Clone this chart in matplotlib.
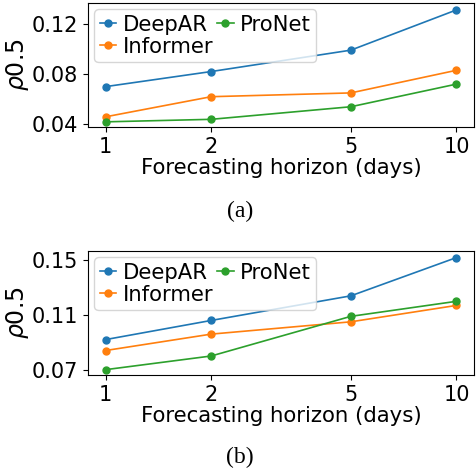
import matplotlib
matplotlib.use("Agg")
import matplotlib.pyplot as plt
from matplotlib.ticker import FixedLocator, NullLocator

horizons = [1, 2, 5, 10]
models = ["DeepAR", "Informer", "ProNet"]
colors = ["tab:blue", "tab:orange", "tab:green"]

# panel (a)
a_deepar = [0.070, 0.082, 0.099, 0.131]
a_informer = [0.046, 0.062, 0.065, 0.083]
a_pronet = [0.042, 0.044, 0.054, 0.072]
a_yticks = [0.04, 0.08, 0.12]
a_ylim = (0.0379, 0.1365)

# panel (b)
b_deepar = [0.092, 0.106, 0.124, 0.152]
b_informer = [0.084, 0.096, 0.105, 0.117]
b_pronet = [0.070, 0.080, 0.109, 0.120]
b_yticks = [0.07, 0.11, 0.15]
b_ylim = (0.0661, 0.1568)

W, H = 476, 470
fig = plt.figure(figsize=(W / 100, H / 100), dpi=100)

def px_axes(left, top, right, bottom):
    return fig.add_axes([left / W, 1 - bottom / H, (right - left) / W, (bottom - top) / H])

panels = [
    (px_axes(88, 3, 474, 127), [a_deepar, a_informer, a_pronet], a_yticks, a_ylim, "(a)", 211),
    (px_axes(88, 251, 474, 375), [b_deepar, b_informer, b_pronet], b_yticks, b_ylim, "(b)", 457),
]

for ax, series, yt, yl, cap, cap_y in panels:
    for name, vals, c in zip(models, series, colors):
        ax.plot(horizons, vals, marker="o", markersize=5, lw=1.2, color=c, label=name)
    ax.set_xscale("log")
    ax.xaxis.set_major_locator(FixedLocator(horizons))
    ax.xaxis.set_minor_locator(NullLocator())
    ax.set_xticklabels([str(h) for h in horizons])
    ax.set_yticks(yt)
    ax.set_yticklabels(["%.2f" % v for v in yt])
    ax.set_ylim(*yl)
    ax.tick_params(labelsize=15)
    ax.set_xlabel("Forecasting horizon (days)", fontsize=15.3, labelpad=1)
    ax.set_ylabel(r"$\rho$0.5", fontsize=17, labelpad=1)
    ax.legend(loc="upper left", ncol=2, fontsize=15.2, handlelength=0.8,
              handletextpad=0.3, columnspacing=0.15, labelspacing=0.1,
              borderpad=0.25, borderaxespad=0.3)
    fig.text(240 / W, 1 - cap_y / H, cap, ha="center", va="center",
             family="Liberation Serif", fontsize=17)

fig.savefig("out.png", dpi=100)
